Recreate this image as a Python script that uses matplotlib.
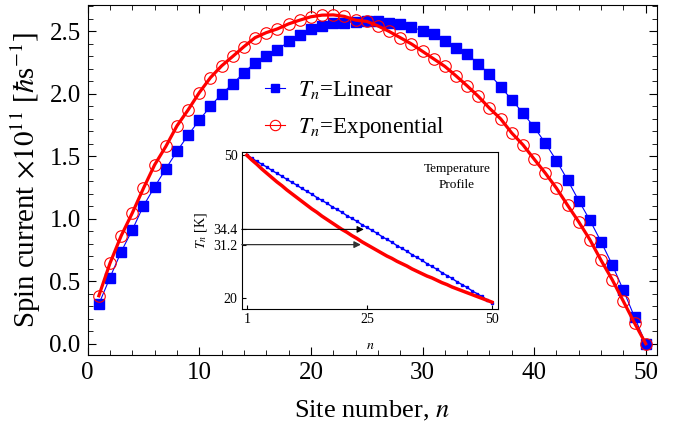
import numpy as np
import matplotlib
matplotlib.use("Agg")
import matplotlib.pyplot as plt
from matplotlib.ticker import MultipleLocator

plt.rcParams["font.family"] = ["Liberation Serif", "DejaVu Serif"]
plt.rcParams["mathtext.fontset"] = "stix"

# site numbers
n = np.arange(1, 51)

# spin current, T_n linear (blue squares)
current_lin = [0.317, 0.53, 0.736, 0.912, 1.104, 1.256, 1.40, 1.54, 1.67, 1.79,
               1.90, 2.00, 2.08, 2.17, 2.25, 2.30, 2.35, 2.42, 2.47, 2.52,
               2.54, 2.565, 2.570, 2.578, 2.586, 2.586, 2.570, 2.558, 2.534, 2.506,
               2.478, 2.426, 2.370, 2.32, 2.24, 2.157, 2.058, 1.952, 1.846, 1.734,
               1.606, 1.466, 1.31, 1.145, 0.988, 0.816, 0.632, 0.427, 0.213, 0.0]

# spin current, T_n exponential (red circles + line)
current_exp = [0.384, 0.645, 0.864, 1.047, 1.245, 1.432, 1.579, 1.744, 1.872, 2.01,
               2.13, 2.224, 2.30, 2.378, 2.45, 2.49, 2.52, 2.56, 2.59, 2.617,
               2.63, 2.632, 2.62, 2.59, 2.58, 2.544, 2.50, 2.45, 2.40, 2.34,
               2.28, 2.22, 2.144, 2.064, 1.98, 1.885, 1.80, 1.686, 1.592, 1.478,
               1.366, 1.245, 1.108, 0.975, 0.832, 0.667, 0.512, 0.339, 0.165, 0.0]

# inset: temperature profiles [K]
temp_lin = [50.0, 49.4, 48.7, 48.1, 47.5, 46.8, 46.2, 45.6, 44.9, 44.3,
            43.7, 43.0, 42.4, 41.8, 41.1, 40.5, 39.9, 39.2, 38.6, 38.0,
            37.3, 36.7, 36.1, 35.4, 34.8, 34.2, 33.6, 32.9, 32.3, 31.7,
            31.0, 30.4, 29.8, 29.1, 28.5, 27.9, 27.2, 26.6, 26.0, 25.3,
            24.7, 24.1, 23.4, 22.8, 22.2, 21.5, 20.9, 20.3, 19.6, 19.0]
temp_exp = [50.0, 49.0, 48.1, 47.1, 46.2, 45.3, 44.4, 43.6, 42.7, 41.9,
            41.1, 40.3, 39.5, 38.7, 38.0, 37.2, 36.5, 35.8, 35.1, 34.4,
            33.8, 33.1, 32.5, 31.8, 31.2, 30.6, 30.0, 29.4, 28.8, 28.3,
            27.7, 27.2, 26.7, 26.1, 25.6, 25.1, 24.6, 24.2, 23.7, 23.2,
            22.8, 22.3, 21.9, 21.5, 21.1, 20.7, 20.3, 19.9, 19.5, 19.1]
inset_yticks = [20, 31.2, 34.4, 50]
inset_xticks = [1, 25, 50]

fig = plt.figure(figsize=(6.85, 4.29), dpi=100)
ax = fig.add_axes([0.128, 0.1725, 0.831, 0.8155])

ax.plot(n, current_lin, "-s", color="blue", lw=0.8, ms=7,
        label=r"$T_n$=Linear")
ax.plot(n, current_exp, "-", color="red", lw=2.3)
ax.plot(n, current_exp, "-o", color="red", lw=0.8, ms=8.3, mfc="none",
        mew=0.8, label=r"$T_n$=Exponential")

ax.set_xlim(0, 51)
ax.set_ylim(-0.09, 2.71)
ax.xaxis.set_major_locator(MultipleLocator(10))
ax.xaxis.set_minor_locator(MultipleLocator(2))
ax.yaxis.set_major_locator(MultipleLocator(0.5))
ax.yaxis.set_minor_locator(MultipleLocator(0.1))
ax.yaxis.set_major_formatter(plt.FormatStrFormatter("%.1f"))
ax.tick_params(which="both", direction="in", top=True, right=True,
               labelsize=18, pad=5)
ax.tick_params(which="major", length=6)
ax.tick_params(which="minor", length=3.5)
ax.set_xlabel(r"Site number, $n$", fontsize=19, labelpad=11)
ax.set_ylabel(r"Spin current $\times10^{11}$ [$\hbar$s$^{-1}$]", fontsize=20.8,
              labelpad=5)

ax.legend(loc="center left", bbox_to_anchor=(0.387, 0.744),
          bbox_transform=fig.transFigure, frameon=False, fontsize=16.5,
          handlelength=0.85, handletextpad=0.6, labelspacing=0.62,
          borderpad=0, borderaxespad=0, markerscale=0.9)

# inset
ins = fig.add_axes([0.353, 0.279, 0.374, 0.367])
ins.plot(n, temp_lin, "-s", color="blue", lw=1.0, ms=1.7)
ins.plot(n, temp_exp, "-", color="red", lw=2.5)
ins.set_xlim(0, 51.2)
ins.set_ylim(17.6, 50.7)
ins.set_xticks(inset_xticks)
ins.set_yticks(inset_yticks)
ins.set_yticklabels([str(v) for v in inset_yticks])
ins.tick_params(direction="in", length=3, labelsize=10, pad=3)
ins.set_xlabel(r"$n$", fontsize=10, labelpad=9)
ins.set_ylabel(r"$T_n$ [K]", fontsize=10, labelpad=3)
ins.annotate("", xy=(24.4, 34.4), xytext=(0, 34.4),
             arrowprops=dict(arrowstyle="-|>", color="black", lw=0.8,
                             mutation_scale=10, shrinkA=0, shrinkB=0))
ins.annotate("", xy=(23.8, 31.2), xytext=(0, 31.2),
             arrowprops=dict(arrowstyle="-|>", color="#333333", lw=0.9,
                             mutation_scale=10, shrinkA=0, shrinkB=0))
ins.text(0.84, 0.93, "Temperature\nProfile", transform=ins.transAxes,
         ha="center", va="top", fontsize=9.5, linespacing=1.5)

fig.savefig("out.png", dpi=100)
